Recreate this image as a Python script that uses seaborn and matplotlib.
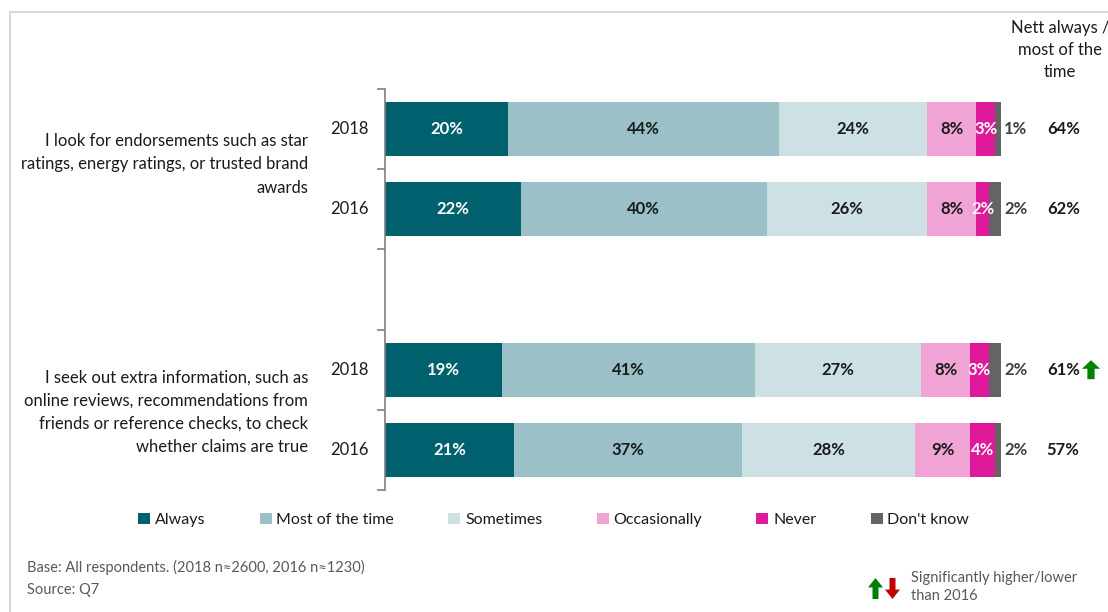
import matplotlib
matplotlib.use("Agg")
import matplotlib.pyplot as plt
from matplotlib.patches import Patch, Polygon
from matplotlib.lines import Line2D
import seaborn as sns
import numpy as np
import pandas as pd

# ---------------- data ----------------
statements = [
    "I look for endorsements such as star\nratings, energy ratings, or trusted brand\nawards",
    "I seek out extra information, such as\nonline reviews, recommendations from\nfriends or reference checks, to check\nwhether claims are true",
]
years = ["2018", "2016", "2018", "2016"]
bar_pos = [0, 1, 3, 4]
responses = ["Always", "Most of the time", "Sometimes", "Occasionally", "Never", "Don't know"]
always = [20, 22, 19, 21]
most_time = [44, 40, 41, 37]
sometimes = [24, 26, 27, 28]
occasionally = [8, 8, 8, 9]
never = [3, 2, 3, 4]
dont_know = [1, 2, 2, 2]
nett = [64, 62, 61, 57]
significance = ["", "", "up", ""]

colors = ["#00606D", "#9BC0C7", "#CDE1E4", "#F0A4D5", "#E0189A", "#646464"]
label_colors = ["white", "#1A1A1A", "#1A1A1A", "#1A1A1A", "white", "#404040"]

W, H = 1108, 612
sns.set_theme(style="white")
plt.rcParams["font.family"] = ["Lato", "DejaVu Sans"]

fig = plt.figure(figsize=(W / 100, H / 100), dpi=100)
ax = fig.add_axes([385 / W, 1 - 490 / H, (1001 - 385) / W, (490 - 89) / H])


def fx(x):
    return x / W


def fy(y):
    return 1 - y / H


series = [always, most_time, sometimes, occasionally, never, dont_know]
vals = np.array(series, dtype=float)  # shape (6, 4)
cum = np.cumsum(vals, axis=0)

df = pd.DataFrame({"pos": bar_pos})
# overplot cumulative sums from longest to shortest
for i in range(len(responses) - 1, -1, -1):
    df["cum"] = cum[i]
    sns.barplot(data=df, x="cum", y="pos", orient="h", native_scale=True,
                color=colors[i], saturation=1, width=0.675, errorbar=None,
                linewidth=0, ax=ax)

ax.set_xlim(0, 100)
ax.set_ylim(4.5, -0.5)
ax.set_xticks([])
ax.set_yticks([-0.5, 0.5, 1.5, 2.5, 3.5, 4.5])
ax.set_yticklabels([])
ax.tick_params(axis="y", which="major", direction="out", length=6, width=1.2,
               color="#808080", left=True)
ax.set_xlabel("")
ax.set_ylabel("")
for s in ["top", "right", "bottom"]:
    ax.spines[s].set_visible(False)
ax.spines["left"].set_color("#808080")
ax.spines["left"].set_linewidth(1.2)
ax.patch.set_alpha(0)

FS = 12
# segment labels
for j, p in enumerate(bar_pos):
    for i in range(len(responses)):
        v = vals[i, j]
        if i == len(responses) - 1:
            xc = 102.4
        else:
            xc = cum[i, j] - v / 2
        ax.text(xc, p, f"{int(v)}%", ha="center", va="center",
                color=label_colors[i], fontsize=FS, fontweight="bold")
    ax.text(110.1, p, f"{nett[j]}%", ha="center", va="center",
            color="#1A1A1A", fontsize=FS, fontweight="bold", clip_on=False)
    ax.text(-2.7, p, years[j], ha="right", va="center", color="#1A1A1A",
            fontsize=FS)

# statement labels
for k, st in enumerate(statements):
    yc = 0.5 + 3 * k - (0.06 if k == 0 else -0.03)
    ax.text(-12.5, yc, st, ha="right", va="center", color="#1A1A1A",
            fontsize=FS, linespacing=1.55)

# header
fig.text(fx(1060), fy(50), "Nett always /\nmost of the\ntime", ha="center",
         va="center", color="#1A1A1A", fontsize=FS, linespacing=1.45)


def arrow(x0, x1, y0, y1, up, color):
    w = x1 - x0
    xm = (x0 + x1) / 2
    sh = w * 0.2
    hh = (y1 - y0) * 0.45
    if up:
        pts = [(xm, y0), (x1, y0 + hh), (xm + sh, y0 + hh), (xm + sh, y1),
               (xm - sh, y1), (xm - sh, y0 + hh), (x0, y0 + hh)]
    else:
        pts = [(xm, y1), (x1, y1 - hh), (xm + sh, y1 - hh), (xm + sh, y0),
               (xm - sh, y0), (xm - sh, y1 - hh), (x0, y1 - hh)]
    fig.patches.append(Polygon([(fx(a), fy(b)) for a, b in pts], closed=True,
                               transform=fig.transFigure, facecolor=color,
                               edgecolor="none"))


# significance arrows next to nett values
for j, sgn in enumerate(significance):
    if sgn:
        ydisp = ax.transData.transform((0, bar_pos[j]))[1]
        ypx = H - ydisp
        arrow(1082, 1100, ypx - 9.5, ypx + 9.5, sgn == "up",
              "#008000" if sgn == "up" else "#C00000")

# legend
handles = [Patch(facecolor=c, edgecolor="none") for c in colors]
fig.legend(handles, responses, ncol=6, loc="center left",
           bbox_to_anchor=(fx(130), fy(520)), frameon=False, fontsize=11.5,
           handlelength=0.75, handleheight=0.75, handletextpad=0.3,
           columnspacing=3.4, labelcolor="#1A1A1A", borderpad=0)

# footer
fig.text(fx(27), fy(567), "Base: All respondents. (2018 n\u22482600, 2016 n\u22481230)",
         ha="left", va="center", color="#595959", fontsize=10.5)
fig.text(fx(27), fy(590), "Source: Q7", ha="left", va="center",
         color="#595959", fontsize=10.5)
arrow(868, 883, 578, 599, True, "#008000")
arrow(885, 900, 578, 599, False, "#C00000")
fig.text(fx(911), fy(587), "Significantly higher/lower\nthan 2016", ha="left",
         va="center", color="#595959", fontsize=10.5, linespacing=1.3)

# frame lines
fig.lines.append(Line2D([fx(10), fx(10)], [fy(12), 0], transform=fig.transFigure,
                        color="#D9D9D9", lw=1.5))
fig.lines.append(Line2D([fx(10), 1], [fy(12), fy(12)], transform=fig.transFigure,
                        color="#D9D9D9", lw=1.5))

fig.savefig("out.png", dpi=100, facecolor="white")
